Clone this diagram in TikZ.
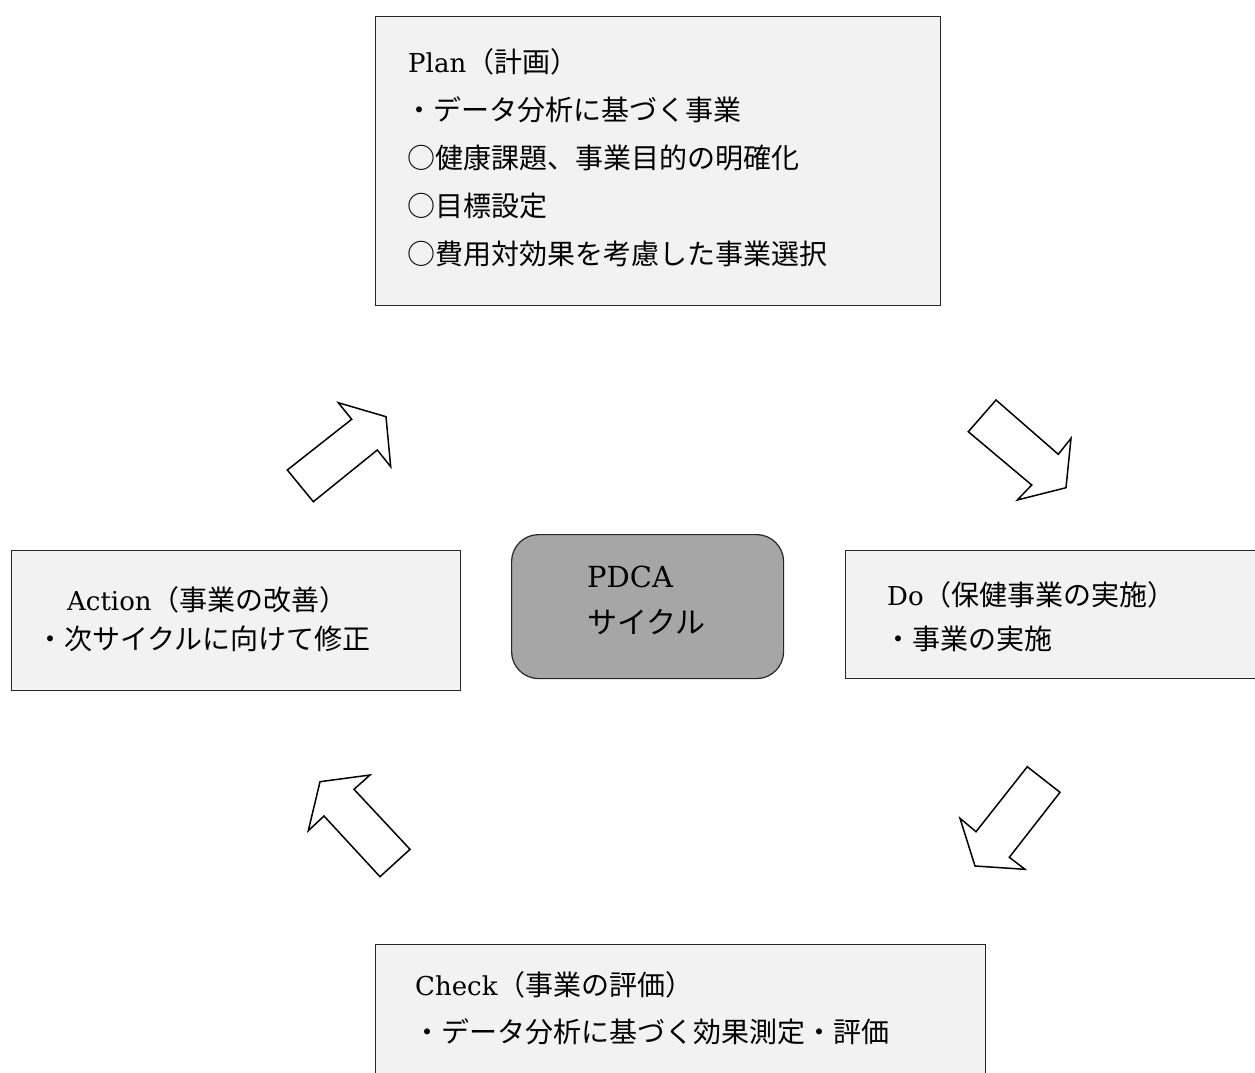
\documentclass[tikz,border=0pt]{standalone}
\usepackage{fontspec}
\newfontfamily\cjk{Noto Sans CJK JP}
\newfontfamily\lat{DejaVu Serif}
\definecolor{boxfill}{HTML}{F2F2F2}
\definecolor{centerfill}{HTML}{A6A6A6}
\begin{document}
\begin{tikzpicture}[x=1pt,y=-1pt,
  box/.style={draw=black!85, line width=1.2pt, fill=boxfill, rectangle, anchor=north west, inner sep=0pt},
  txt/.style={anchor=base west, inner sep=0pt, font=\fontsize{28}{28}\selectfont},
  latxt/.style={anchor=base west, inner sep=0pt, font=\fontsize{26}{26}\selectfont\lat},
  ptxt/.style={anchor=base west, inner sep=0pt, font=\fontsize{30}{30}\selectfont},
  blockarrow/.style={draw=black, line width=1.5pt, fill=white, line join=miter}]
\useasboundingbox (0,0) rectangle (1255,1073);
\clip (0,0) rectangle (1255,1073);
\fill[white] (0,0) rectangle (1255,1073);

% boxes
\node[box, minimum width=565pt, minimum height=289pt] (plan) at (375,16) {};
\node[box, minimum width=449pt, minimum height=140pt] (action) at (11,550) {};
\node[box, minimum width=430pt, minimum height=128pt] (do) at (845,550) {};
\node[box, minimum width=610pt, minimum height=150pt] (check) at (375,944) {};
\node[draw=black!85, line width=1.2pt, fill=centerfill, rounded corners=27pt, anchor=north west, inner sep=0pt, minimum width=272pt, minimum height=144pt] (pdca) at (511,534) {};

% Plan text
\node[latxt] (p1) at (408,73) {Plan{\cjk\fontsize{28}{28}\selectfont （計画）}};
\node[txt] (p2) at (405,120) {\cjk ・データ分析に基づく事業};
\node[txt] (p3) at (407,168) {\cjk ○健康課題、事業目的の明確化};
\node[txt] (p4) at (407,216) {\cjk ○目標設定};
\node[txt] (p5) at (407,264) {\cjk ○費用対効果を考慮した事業選択};

% Action text
\node[latxt] (a1) at (67,610) {Action{\cjk\fontsize{28}{28}\selectfont （事業の改善）}};
\node[txt] (a2) at (36,649) {\cjk ・次サイクルに向けて修正};

% Do text
\node[latxt] (d1) at (887,605) {Do{\cjk\fontsize{28}{28}\selectfont （保健事業の実施）}};
\node[txt] (d2) at (884,649) {\cjk ・事業の実施};

% Check text
\node[latxt] (c1) at (415,995) {Check{\cjk\fontsize{28}{28}\selectfont （事業の評価）}};
\node[txt] (c2) at (413,1042) {\cjk ・データ分析に基づく効果測定・評価};

% PDCA text
\node[ptxt, font=\fontsize{29}{29}\selectfont\lat] (pd1) at (587,587) {PDCA};
\node[ptxt] (pd2) at (587,633) {\cjk サイクル};

% block arrows
\draw[blockarrow] (287.3,470) -- (313.3,501.7) -- (377.3,450) -- (390.7,466.7) -- (386,416.7) -- (338.3,402.7) -- (351.7,419.3) -- cycle;
\draw[blockarrow] (968.3,431.7) -- (996,400) -- (1058.3,454.3) -- (1071,438.3) -- (1066,487.7) -- (1017.3,500) -- (1031.7,485) -- cycle;
\draw[blockarrow] (410,849.3) -- (380,876.7) -- (324,816) -- (308.3,830.7) -- (320,781.7) -- (370,775) -- (354,789.3) -- cycle;
\draw[blockarrow] (1027.3,766.7) -- (1060,792.3) -- (1009.3,857.3) -- (1025,869.3) -- (975,866) -- (960,818.3) -- (976,831.7) -- cycle;
\end{tikzpicture}
\end{document}
